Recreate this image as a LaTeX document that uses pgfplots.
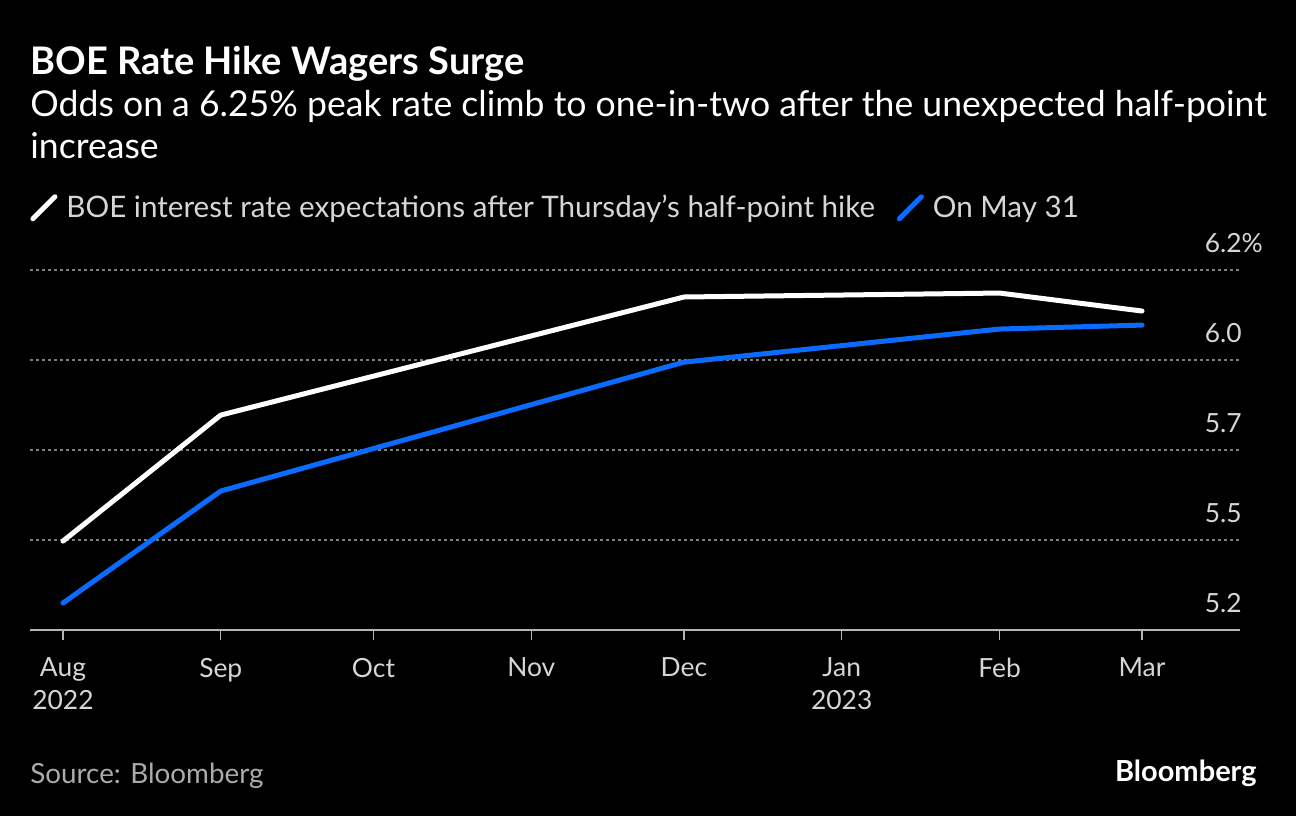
\documentclass[border=0pt]{standalone}
\usepackage{pgfplots}
\pgfplotsset{compat=1.18}
\usepackage{fontspec}
\setmainfont{Lato}
\definecolor{bblue}{HTML}{0A6CFF}
\definecolor{ticktext}{HTML}{D6D6D6}
\definecolor{gridc}{HTML}{808080}
\definecolor{axisc}{HTML}{B4B4B4}
\begin{document}
\begin{tikzpicture}
\fill[black] (0,0) rectangle (648pt,408pt);
\node[anchor=base west, text=white, font=\bfseries\fontsize{19}{22}\selectfont, inner sep=0] at (15pt,370.5pt) {BOE Rate Hike Wagers Surge};
\node[anchor=base west, text=white, font=\fontsize{17.8}{21}\selectfont, inner sep=0] at (15pt,349.5pt) {Odds on a 6.25\% peak rate climb to one-in-two after the unexpected half-point};
\node[anchor=base west, text=white, font=\fontsize{17.8}{21}\selectfont, inner sep=0] at (15pt,329pt) {increase};
\node[anchor=base west, text=ticktext!80!black, font=\fontsize{13.9}{16}\selectfont, inner sep=0] at (15pt,16.5pt) {Source: Bloomberg};
\node[anchor=base east, text=white, font=\bfseries\fontsize{14.5}{16}\selectfont, inner sep=0] at (628.5pt,17.5pt) {Bloomberg};
\begin{axis}[
  at={(15pt,93pt)}, anchor=south west,
  scale only axis, width=605pt, height=180pt,
  xmin=-6.48, xmax=231.25, ymin=5.25, ymax=6.25,
  axis x line=bottom, axis y line=right,
  x axis line style={-, draw=axisc, line width=0.7pt},
  y axis line style={draw=none},
  xtick={0,31,61,92,122,153,184,212},
  xticklabels={{Aug\\2022},Sep,Oct,Nov,Dec,{Jan\\2023},Feb,Mar},
  xticklabel style={align=center, text=ticktext, font=\fontsize{13.2}{16.2}\selectfont, yshift=-5.5pt},
  tick align=outside, major tick length=5pt,
  xtick style={draw=axisc, line width=0.7pt},
  ytick={5.25,5.5,5.75,6.0,6.25},
  yticklabels={5.2,5.5,5.7,6.0,6.2\rlap{\%}},
  ytick style={draw=none},
  yticklabel style={anchor=base east, inner sep=0pt, yshift=9pt, xshift=-4pt, text=ticktext, font=\fontsize{13.2}{16}\selectfont},
  ymajorgrids, grid style={draw=gridc, line width=0.6pt, dash pattern=on 1.5pt off 1.5pt},
  legend style={at={(0,1)}, anchor=south west, yshift=22.5pt, draw=none, fill=none, inner sep=0pt, text=ticktext, font=\fontsize{14.8}{17}\selectfont, legend columns=-1, /tikz/every even column/.append style={column sep=9pt}, /tikz/every odd column/.append style={column sep=2.5pt}},
  legend image code/.code={\draw[#1, line width=2.5pt] (0pt,-5.5pt) -- (11pt,5.5pt);},
  clip=false,
]
\addplot[draw=white, line width=2.5pt, line cap=round] table {
x y
0 5.497
31 5.847
122 6.175
184 6.186
212 6.136
};
\addlegendentry{BOE interest rate expectations after Thursday's half-point hike}
\addplot[draw=bblue, line width=2.5pt, line cap=round] table {
x y
0 5.325
31 5.636
122 5.994
184 6.086
212 6.097
};
\addlegendentry{On May 31}
\end{axis}
\end{tikzpicture}
\end{document}
